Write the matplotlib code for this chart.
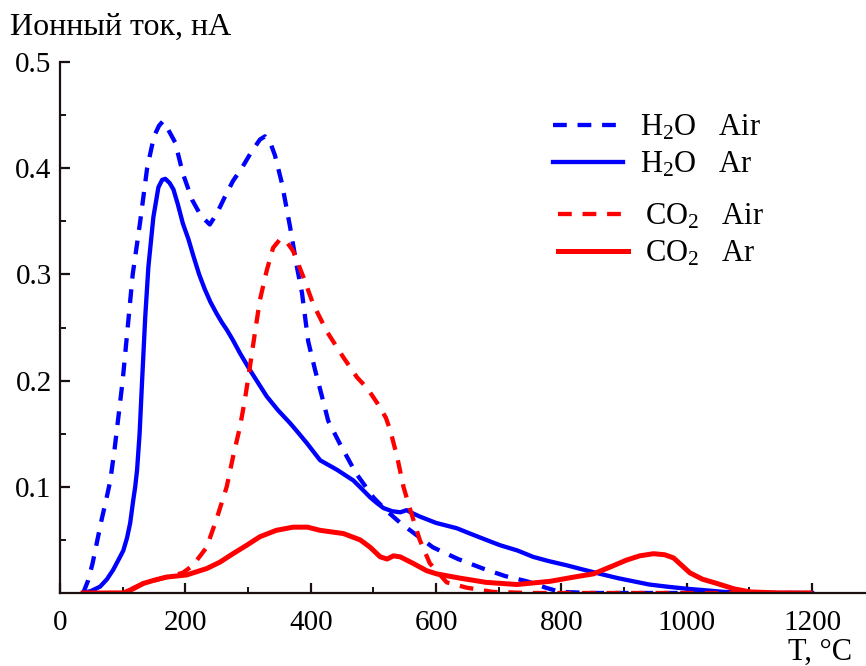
import matplotlib
matplotlib.use("Agg")
import matplotlib.pyplot as plt
from matplotlib.ticker import FixedLocator

plt.rcParams['font.family'] = ['Liberation Serif', 'DejaVu Serif']
plt.rcParams['mathtext.fontset'] = 'custom'
plt.rcParams['mathtext.rm'] = 'Liberation Serif'
plt.rcParams['mathtext.default'] = 'regular'

# ---- data ----
h2o_air_T = [37, 45, 52, 59, 66, 73, 80, 87, 94, 100, 108, 116, 128, 139, 150, 158, 164, 172, 184, 196,
             211, 225, 239, 250, 263, 276, 290, 305, 319, 327, 335, 343, 354, 367, 378, 386, 396, 407,
             418, 428, 447, 472, 500, 520, 543, 570, 595, 635, 675, 710, 745, 775, 798, 850, 900, 1000,
             1100, 1200]
h2o_air_V = [0, 0.012, 0.028, 0.048, 0.068, 0.086, 0.105, 0.135, 0.17, 0.2, 0.25, 0.3, 0.35, 0.4, 0.43,
             0.44, 0.444, 0.437, 0.424, 0.395, 0.37, 0.355, 0.347, 0.357, 0.373, 0.388, 0.40, 0.415,
             0.427, 0.43, 0.425, 0.412, 0.386, 0.345, 0.307, 0.283, 0.237, 0.21, 0.185, 0.162, 0.14,
             0.113, 0.09, 0.078, 0.066, 0.054, 0.043, 0.032, 0.023, 0.016, 0.011, 0.005, 0.001, 0, 0,
             0, 0, 0]

h2o_ar_T = [37, 50, 64, 75, 85, 94, 101, 107, 112, 117, 120, 123, 127, 131, 136, 141, 149, 157, 163,
            168, 175, 181, 188, 196, 205, 213, 222, 231, 240, 250, 258, 266, 276, 287, 303, 317, 330,
            348, 367, 380, 394, 415, 442, 468, 480, 495, 505, 516, 530, 543, 553, 563, 574, 600, 633,
            654, 680, 702, 730, 755, 780, 809, 835, 862, 890, 915, 940, 968, 1000, 1021, 1060, 1100,
            1150, 1200]
h2o_ar_V = [0, 0.002, 0.006, 0.013, 0.022, 0.032, 0.04, 0.052, 0.066, 0.088, 0.1, 0.116, 0.15, 0.2,
            0.26, 0.307, 0.354, 0.382, 0.389, 0.39, 0.386, 0.38, 0.366, 0.348, 0.333, 0.317, 0.30,
            0.286, 0.274, 0.263, 0.255, 0.248, 0.238, 0.226, 0.21, 0.197, 0.185, 0.172, 0.16, 0.151,
            0.141, 0.125, 0.116, 0.106, 0.099, 0.09, 0.085, 0.08, 0.077, 0.076, 0.078, 0.075, 0.072,
            0.066, 0.061, 0.056, 0.05, 0.045, 0.04, 0.034, 0.03, 0.026, 0.022, 0.018, 0.014, 0.011,
            0.008, 0.006, 0.004, 0.003, 0.001, 0.0, 0.0, 0.0]

co2_air_T = [37, 100, 133, 170, 196, 212, 234, 250, 266, 276, 287, 295, 303, 311, 319, 330, 340, 351,
             360, 372, 388, 404, 426, 452, 474, 490, 506, 520, 527, 538, 548, 559, 574, 590, 617, 649,
             691, 750, 850, 1000, 1200]
co2_air_V = [0, 0, 0.009, 0.015, 0.019, 0.026, 0.043, 0.07, 0.1, 0.128, 0.156, 0.182, 0.213, 0.245,
             0.276, 0.304, 0.325, 0.333, 0.332, 0.322, 0.298, 0.272, 0.246, 0.222, 0.203, 0.193, 0.179,
             0.165, 0.153, 0.128, 0.1, 0.078, 0.05, 0.028, 0.01, 0.005, 0.001, 0, 0, 0, 0]

co2_ar_T = [37, 101, 117, 133, 150, 170, 202, 234, 255, 276, 298, 319, 345, 372, 395, 415, 452, 479,
            495, 511, 522, 532, 543, 553, 563, 585, 601, 638, 680, 729, 782, 820, 851, 880, 904, 925,
            947, 965, 979, 1005, 1025, 1048, 1075, 1101, 1150, 1197]
co2_ar_V = [0, 0, 0.004, 0.009, 0.012, 0.015, 0.017, 0.023, 0.029, 0.037, 0.045, 0.053, 0.059, 0.062,
            0.062, 0.059, 0.056, 0.05, 0.043, 0.034, 0.032, 0.035, 0.034, 0.031, 0.028, 0.021, 0.018,
            0.014, 0.01, 0.008, 0.011, 0.015, 0.018, 0.025, 0.031, 0.035, 0.037, 0.036, 0.033, 0.019,
            0.013, 0.009, 0.004, 0.001, 0, 0]

labels = [r"H$_2$O   Air", r"H$_2$O   Ar", r"CO$_2$   Air", r"CO$_2$   Ar"]
x_ticks = [0, 200, 400, 600, 800, 1000, 1200]
x_minor = [100, 300, 500, 700, 900, 1100]
y_ticks = [0.1, 0.2, 0.3, 0.4, 0.5]
y_minor = [0.05, 0.15, 0.25, 0.35, 0.45]

BLUE = "#0000FF"
RED = "#FF0000"
AXC = '#1a1010'

fig = plt.figure(figsize=(8.66, 6.66), dpi=100)
ax = fig.add_axes([60/866, 1-593/666, 1-60/866, (593-62)/666])

l1, = ax.plot(h2o_air_T, h2o_air_V, color=BLUE, lw=3.1, dashes=(3.2, 2.5), label=labels[0])
l2, = ax.plot(h2o_ar_T, h2o_ar_V, color=BLUE, lw=3.1, label=labels[1])
l3, = ax.plot(co2_air_T, co2_air_V, color=RED, lw=3.1, dashes=(3.2, 2.5), label=labels[2])
l4, = ax.plot(co2_ar_T, co2_ar_V, color=RED, lw=3.6, label=labels[3])

ax.set_xlim(0, 1286)
ax.set_ylim(0, 0.5)
for s in ['top', 'right']:
    ax.spines[s].set_visible(False)
for s in ['left', 'bottom']:
    ax.spines[s].set_linewidth(1.6)
    ax.spines[s].set_color(AXC)

ax.xaxis.set_major_locator(FixedLocator(x_ticks))
ax.xaxis.set_minor_locator(FixedLocator(x_minor))
ax.yaxis.set_major_locator(FixedLocator(y_ticks))
ax.yaxis.set_minor_locator(FixedLocator(y_minor))
ax.set_xticklabels([str(t) for t in x_ticks])
ax.set_yticklabels([f"{t:.1f}" for t in y_ticks])
ax.tick_params(which='major', direction='in', length=7, width=1.6, labelsize=21, color=AXC)
ax.tick_params(which='minor', direction='in', length=4, width=1.4, color=AXC)
ax.tick_params(axis='x', which='major', pad=12)
ax.tick_params(axis='y', which='major', pad=6)

leg1 = ax.legend(handles=[l1, l2], loc='upper left', bbox_to_anchor=(553/866, 1-113/666),
                 bbox_transform=fig.transFigure, frameon=False, fontsize=22, handlelength=2.3,
                 handletextpad=0.55, labelspacing=0.25, borderpad=0, borderaxespad=0)
ax.add_artist(leg1)
ax.legend(handles=[l3, l4], loc='upper left', bbox_to_anchor=(558/866, 1-202/666),
          bbox_transform=fig.transFigure, frameon=False, fontsize=22, handlelength=2.3,
          handletextpad=0.55, labelspacing=0.25, borderpad=0, borderaxespad=0)

fig.text(10/866, 1-35/666, "Ионный ток, нА", fontsize=23, ha='left', va='baseline')
fig.text(852/866, 1-660/666, "T, °C", fontsize=22, ha='right', va='baseline')

fig.savefig("out.png", dpi=100)
